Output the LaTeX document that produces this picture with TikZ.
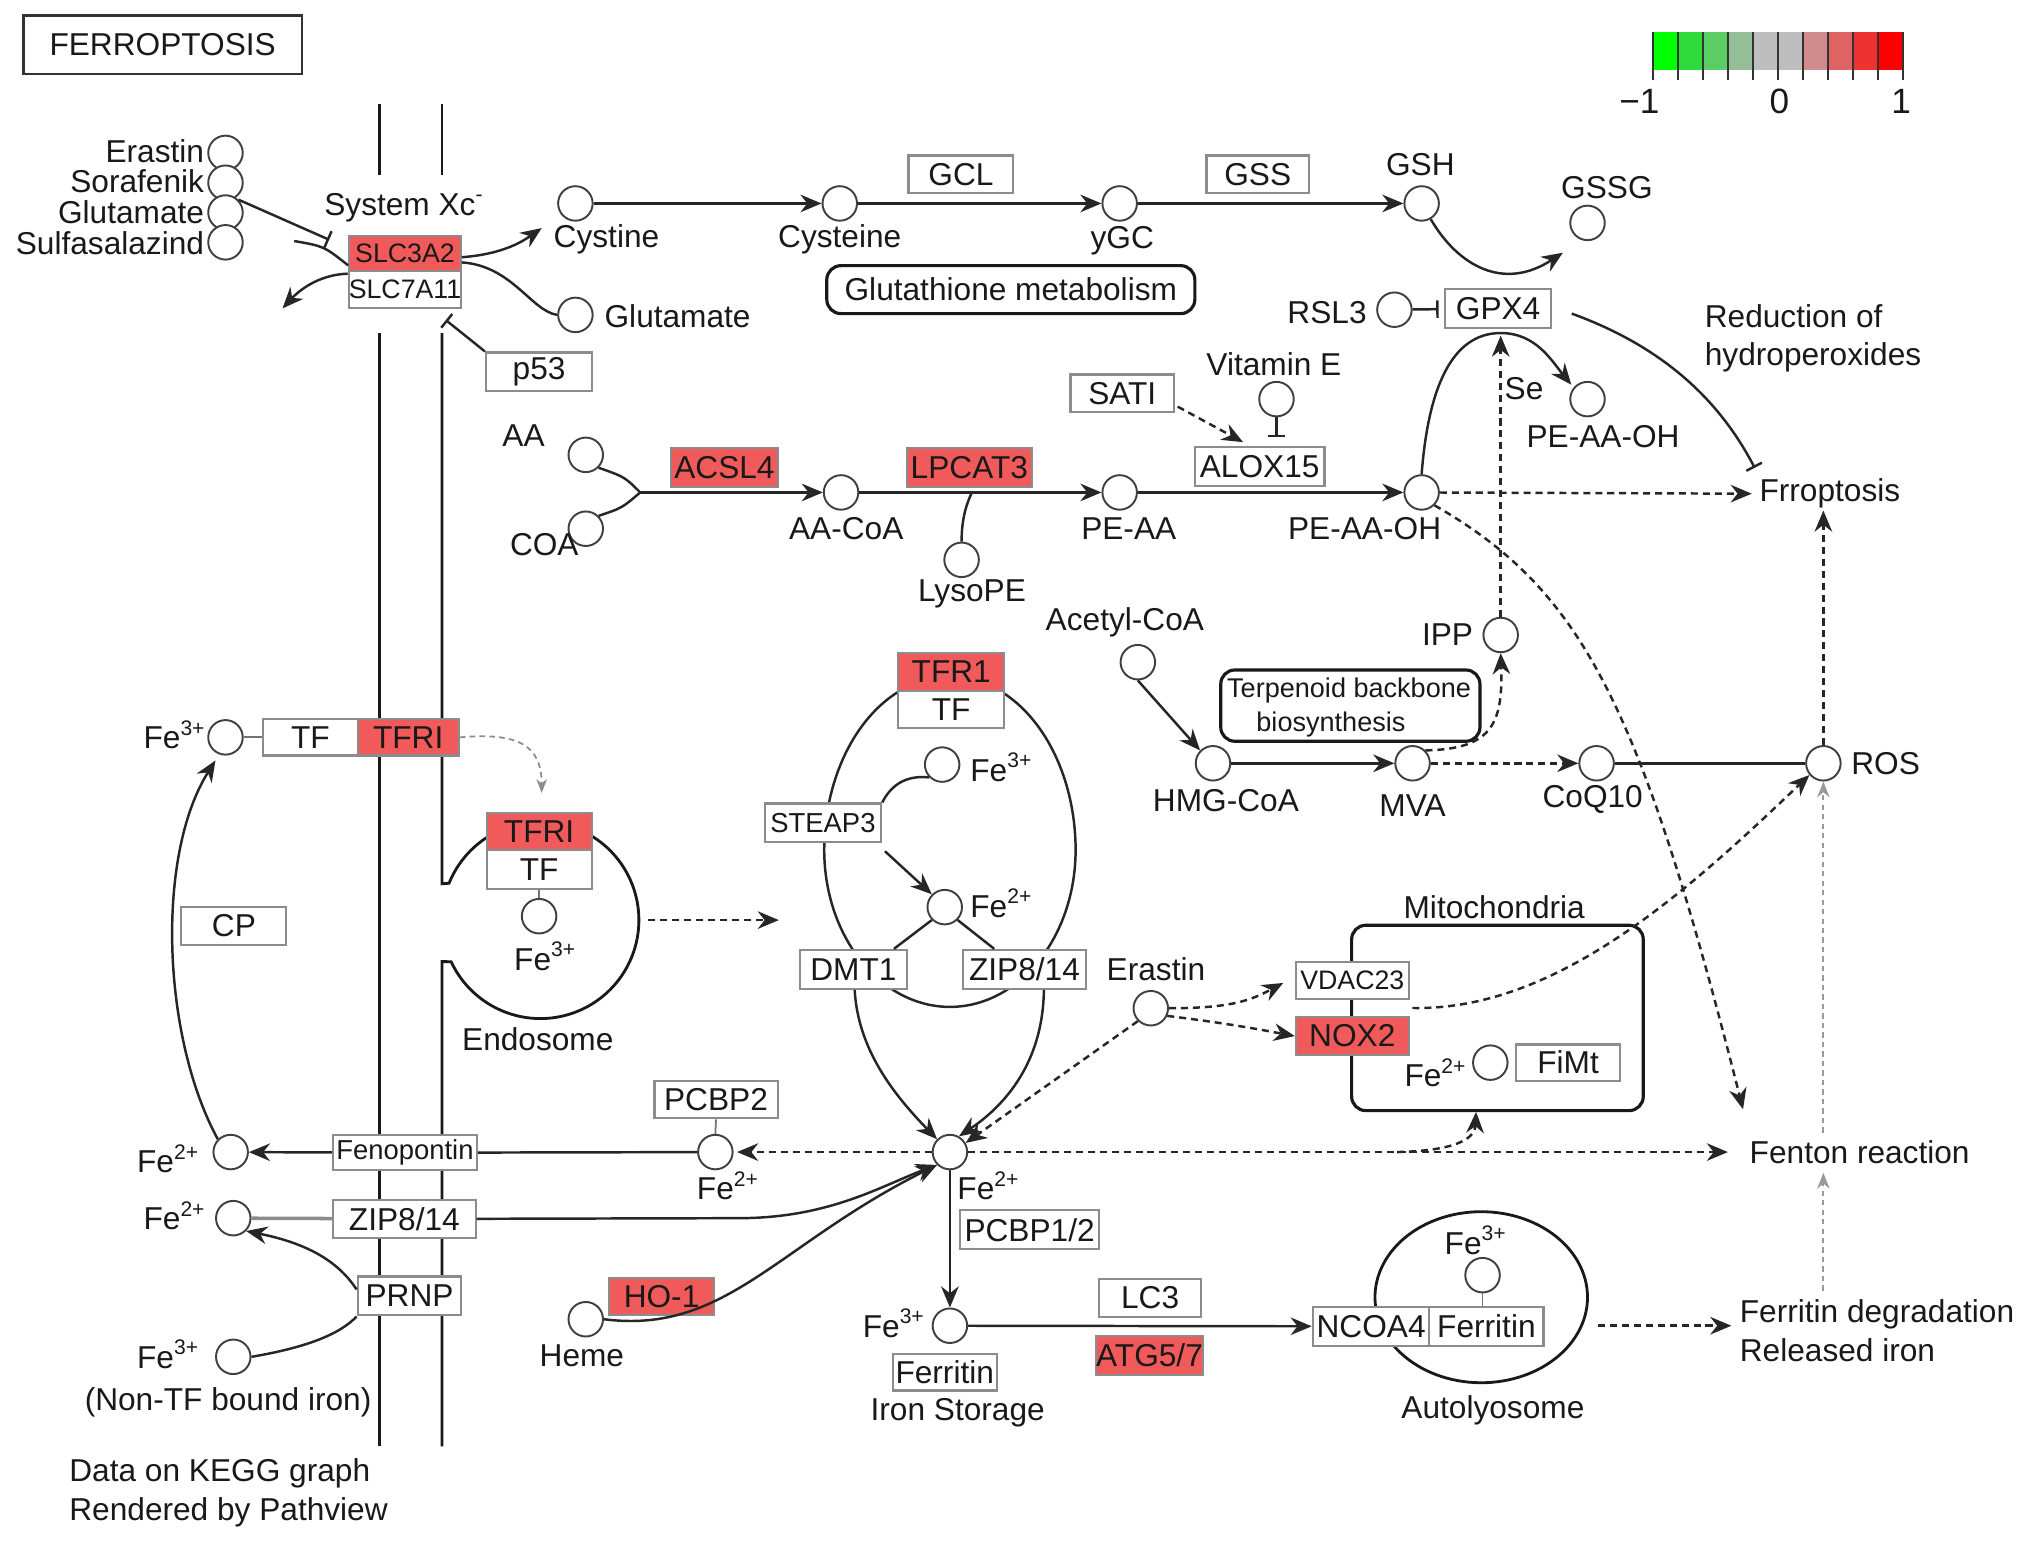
\documentclass[tikz,border=0pt]{standalone}
\usepackage{fontspec}
\setmainfont{Liberation Sans}
\usetikzlibrary{arrows.meta,calc}
\newcommand\dpx[1]{#1*0.012959cm}
\definecolor{hired}{RGB}{240,90,90}
\definecolor{lgA}{RGB}{0,255,0}
\definecolor{lgB}{RGB}{45,220,60}
\definecolor{lgC}{RGB}{90,205,100}
\definecolor{lgD}{RGB}{150,190,150}
\definecolor{lgE}{RGB}{190,190,190}
\definecolor{lgF}{RGB}{190,190,190}
\definecolor{lgG}{RGB}{208,140,140}
\definecolor{lgH}{RGB}{222,100,100}
\definecolor{lgI}{RGB}{238,50,50}
\definecolor{lgJ}{RGB}{255,0,0}
\begin{document}
\begin{tikzpicture}[x=0.012959cm,y=-0.012959cm,
  every node/.style={font=\fontsize{9}{11}\selectfont, inner sep=0pt, text=black!90},
  met/.style={circle, draw=black!75, line width=0.55pt, minimum size=0.345cm, fill=white},
  gbox/.style={draw=black!45, line width=0.6pt, fill=white, minimum height=\dpx{29}},
  rbox/.style={gbox, fill=hired},
  smf/.style={font=\fontsize{7.6}{9}\selectfont},
  ln/.style={draw=black!85, line width=0.7pt},
  tl/.style={draw=black!55, line width=0.5pt},
  arr/.style={ln, -{Stealth[length=6pt,width=5pt]}},
  darr/.style={arr, dash pattern=on 2pt off 1.4pt},
  inh/.style={ln, -{Bar[width=5pt]}},
  gdot/.style={draw=black!40, line width=0.6pt, dash pattern=on 1.5pt off 1.2pt, -{Stealth[length=4.5pt,width=3.5pt]}},
  memb/.style={draw=black!90, line width=0.8pt},
  rnd/.style={draw=black!90, line width=0.9pt, rounded corners=4pt}
]
\useasboundingbox (0,0) rectangle (1568,1190);

% ---------- title and legend
\node[draw=black!80, line width=0.7pt, minimum width=\dpx{215}, minimum height=\dpx{45}] (title) at (125.5,34.5) {FERROPTOSIS};
\foreach \c [count=\i from 0] in {lgA,lgB,lgC,lgD,lgE,lgF,lgG,lgH,lgI,lgJ}
  \fill[\c] ({1275.5+\i*19.3},24.7) rectangle ({1275.5+(\i+1)*19.3},54);
\foreach \i in {0,...,10}
  \draw[black!80, line width=0.8pt] ({1275.5+\i*19.3},24.7) -- ({1275.5+\i*19.3},61.7);
\node[font=\fontsize{10}{12}\selectfont] (lgm) at (1265,78) {−1};
\node[font=\fontsize{10}{12}\selectfont] (lg0) at (1373,78) {0};
\node[font=\fontsize{10}{12}\selectfont] (lg1) at (1467,78) {1};

% ---------- background shapes
\draw[memb] (293,80) -- (293,135);
\draw[memb] (341,80) -- (341,135);
\draw[memb] (293,257) -- (293,1116);
\draw[memb] (341,257) -- (341,682) -- plot[domain=158:121, samples=30] ({417+76*cos(\x)},{710-76*sin(\x)});
\draw[memb] plot[domain=59:-155, samples=90] ({417+76*cos(\x)},{710-76*sin(\x)}) -- (341,742) -- (341,1116);
\draw[ln] plot[domain=0:180, samples=80] ({733+97*cos(\x)},{656-134*sin(\x)}) -- plot[domain=180:360, samples=80] ({733+97*cos(\x)},{656-121*sin(\x)}) -- cycle;
\draw[memb] plot[domain=0:360, samples=120] ({1143+82*cos(\x)},{1001-66*sin(\x)}) -- cycle;
\node[rnd, minimum width=\dpx{225}, minimum height=\dpx{143}] (mito) at (1155.5,785.5) {};
\node (mitol) at (1153,700) {Mitochondria};

% ---------- top-left: System Xc-
\node[met] (era) at (174,118) {};
\node[met] (sor) at (174,141) {};
\node[met] (glu) at (174,164) {};
\node[met] (sul) at (174,187) {};
\node[anchor=east] (eral) at (158,117) {Erastin};
\node[anchor=east] (sorl) at (158,140) {Sorafenik};
\node[anchor=east] (glul) at (158,164) {Glutamate};
\node[anchor=east] (sull) at (158,188) {Sulfasalazind};
\node (sxc) at (312,160) {System Xc\textsuperscript{-}};
\node[rbox, smf, minimum width=\dpx{86}, minimum height=\dpx{27}] (slc3) at (312.5,195.5) {SLC3A2};
\node[gbox, smf, minimum width=\dpx{86}, minimum height=\dpx{29}] (slc7) at (312.5,223.5) {SLC7A11};
\node[gbox, minimum width=\dpx{82}, minimum height=\dpx{30}] (p53) at (416,287) {p53};
\coordinate (bxc) at (254,185);
\coordinate (xin) at (227,186);
\coordinate (xout) at (218,238);
\coordinate (cysin) at (418,176);
\coordinate (p53in) at (344,247);

% ---------- glutathione row
\node[met] (cys) at (444,157) {};
\node (cysl) at (468,185) {Cystine};
\node[met] (glut) at (444,243) {};
\node[anchor=west] (glutl) at (466,244) {Glutamate};
\node[met] (cyst) at (648,157) {};
\node (cystl) at (648,185) {Cysteine};
\node[gbox, minimum width=\dpx{81}] (gcl) at (741.5,134.5) {GCL};
\node[met] (ygc) at (864,157) {};
\node (ygcl) at (866,186) {yGC};
\node[gbox, minimum width=\dpx{79}] (gss) at (970.5,134.5) {GSS};
\node[met] (gsh) at (1097,157) {};
\node (gshl) at (1096,127) {GSH};
\node[met] (gssg) at (1225,172) {};
\node (gssgl) at (1240,145) {GSSG};
\coordinate (gssgin) at (1206,195);
\node[rnd, minimum width=\dpx{284}, minimum height=\dpx{37}] (glum) at (780,223.5) {Glutathione metabolism};
\node (rsl3l) at (1024,241) {RSL3};
\node[met] (rsl3) at (1076,239) {};
\node[gbox, minimum width=\dpx{82}, minimum height=\dpx{30}] (gpx4) at (1156,238) {GPX4};
\node[anchor=west, align=left] (redl) at (1315,261) {Reduction of\\hydroperoxides};

% ---------- lipid row
\node (vitel) at (983,281) {Vitamin E};
\node[met] (vite) at (985,308) {};
\node[gbox, minimum width=\dpx{80}] (sati) at (866,303.5) {SATI};
\node[gbox, minimum width=\dpx{100}, minimum height=\dpx{30}] (alox) at (972,360) {ALOX15};
\node (aal) at (404,336) {AA};
\node[met] (aa) at (452,351) {};
\node[met] (coa) at (452,408) {};
\node (coal) at (420,420) {COA};
\coordinate (jn) at (494,380);
\node[rbox, minimum width=\dpx{82}, minimum height=\dpx{30}] (acsl4) at (559,361) {ACSL4};
\node[met] (aacoa) at (649,380) {};
\node (aacoal) at (653,408) {AA-CoA};
\node[rbox, minimum width=\dpx{96}, minimum height=\dpx{30}] (lpcat3) at (748,361) {LPCAT3};
\node[met] (lyso) at (742,432) {};
\node (lysol) at (750,458) {LysoPE};
\coordinate (lysoj) at (750,380);
\node[met] (peaa) at (864,380) {};
\node (peaal) at (871,408) {PE-AA};
\node[met] (peaaoh) at (1097,380) {};
\node (peaaohl) at (1053,408) {PE-AA-OH};
\node (sel) at (1176,300) {Se};
\node[met] (pe2) at (1225,308) {};
\node (pe2l) at (1237,337) {PE-AA-OH};
\node (frr) at (1412,381) {Frroptosis};
\coordinate (frrinh) at (1354,361);
\coordinate (frrb) at (1407,394);

% ---------- terpenoid / ROS
\node (ippl) at (1117,490) {IPP};
\node[met] (ipp) at (1158,490) {};
\coordinate (ipptop) at (1158,259);
\node (acl) at (868,480) {Acetyl-CoA};
\node[met] (acoa) at (878,511) {};
\node[rnd, minimum width=\dpx{200}, minimum height=\dpx{55}] (terp) at (1042,544.5) {};
\node[font=\fontsize{7.7}{9}\selectfont] (terpl1) at (1041,533) {Terpenoid backbone};
\node[font=\fontsize{7.7}{9}\selectfont] (terpl2) at (1027,559) {biosynthesis};
\node[met] (hmg) at (936,589) {};
\node (hmgl) at (946,618) {HMG-CoA};
\node[met] (mva) at (1090,589) {};
\node (mval) at (1090,622) {MVA};
\node[met] (coq) at (1232,589) {};
\node (coql) at (1229,617) {CoQ10};
\node[met] (ros) at (1407,589) {};
\node (rosl) at (1455,589) {ROS};

% ---------- TF / endosome
\node (fe3al) at (135,567) {Fe\textsuperscript{3+}};
\node[met] (fe3a) at (174,569) {};
\node[gbox, minimum width=\dpx{73}, minimum height=\dpx{28}] (tf1) at (239.5,569) {TF};
\node[rbox, minimum width=\dpx{78}, minimum height=\dpx{28}] (tfri1) at (315,569) {TFRI};
\coordinate (endtop) at (418,612);
\node[gbox, minimum width=\dpx{81}] (cp) at (180.5,714.5) {CP};
\node[rbox, minimum width=\dpx{81}, minimum height=\dpx{29}] (tfri2) at (416,642) {TFRI};
\node[gbox, minimum width=\dpx{81}, minimum height=\dpx{30}] (tf2) at (416,671) {TF};
\node[met] (fe3b) at (416,707) {};
\node (fe3bl) at (421,738) {Fe\textsuperscript{3+}};
\node (endol) at (415,802) {Endosome};
\coordinate (endor) at (500,710);
\coordinate (endoa) at (601,710);

% ---------- TFR1 cell
\node[rbox, minimum width=\dpx{82}, minimum height=\dpx{29}] (tfr1) at (734,518.5) {TFR1};
\node[gbox, minimum width=\dpx{82}, minimum height=\dpx{29}] (tf3) at (734,547.5) {TF};
\node[met] (fe3c) at (727,590) {};
\node (fe3cl) at (773,592) {Fe\textsuperscript{3+}};
\node[gbox, minimum width=\dpx{90}, minimum height=\dpx{30}, font=\fontsize{7.8}{9}\selectfont] (steap) at (635,635) {STEAP3};
\node[met] (fe2c) at (729,700) {};
\node (fe2cl) at (773,697) {Fe\textsuperscript{2+}};
\node[gbox, minimum width=\dpx{83}, minimum height=\dpx{30}] (dmt1) at (658.5,748) {DMT1};
\node[gbox, minimum width=\dpx{95}, minimum height=\dpx{30}] (zip1) at (790.5,748) {ZIP8/14};

% ---------- Erastin / mitochondria
\node (eral2) at (892,748) {Erastin};
\node[met] (era2) at (888,778) {};
\node[gbox, smf, minimum width=\dpx{87}, minimum height=\dpx{29}] (vdac) at (1043.5,756.5) {VDAC23};
\node[rbox, minimum width=\dpx{87}, minimum height=\dpx{29}] (nox2) at (1043.5,799.5) {NOX2};
\node (fe2el) at (1108,828) {Fe\textsuperscript{2+}};
\node[met] (fe2e) at (1150,820) {};
\node[gbox, minimum width=\dpx{80}, minimum height=\dpx{28}] (fimt) at (1210,820) {FiMt};
\coordinate (mitoin) at (1139,858);

% ---------- lower iron traffic
\node[met] (fe2d) at (733,889) {};
\node (fe2dl) at (763,915) {Fe\textsuperscript{2+}};
\node (fenton) at (1435,889) {Fenton reaction};
\coordinate (fbr) at (1078,889);
\coordinate (fentop) at (1345,856);
\coordinate (fentb) at (1407,905);
\coordinate (fentt) at (1407,874);
\node[gbox, minimum width=\dpx{95}] (pcbp2) at (552.5,848.5) {PCBP2};
\node[met] (fe2f) at (552,889) {};
\node (fe2fl) at (562,915) {Fe\textsuperscript{2+}};
\node[gbox, minimum width=\dpx{111}, minimum height=\dpx{27}, font=\fontsize{7.8}{9}\selectfont] (fpn) at (312.5,889.5) {Fenopontin};
\node (fe2gl) at (130,894) {Fe\textsuperscript{2+}};
\node[met] (fe2g) at (178,889) {};
\node (fe2hl) at (135,938) {Fe\textsuperscript{2+}};
\node[met] (fe2h) at (180,940) {};
\node[gbox, minimum width=\dpx{110}] (zip2) at (312,940.5) {ZIP8/14};
\node[gbox, minimum width=\dpx{80}, minimum height=\dpx{30}] (prnp) at (316,1000) {PRNP};
\node (fe3dl) at (130,1045) {Fe\textsuperscript{3+}};
\node[met] (fe3d) at (180,1047) {};
\node (ntf) at (176,1082) {(Non-TF bound iron)};
\node[rbox, minimum width=\dpx{81}] (ho1) at (510.5,1000.5) {HO-1};
\node[met] (heme) at (452,1018) {};
\node (hemel) at (449,1046) {Heme};
\node[gbox, minimum width=\dpx{107}, minimum height=\dpx{30}] (pcbp12) at (794.5,949) {PCBP1/2};
\node[met] (fe3e) at (733,1023) {};
\node (fe3el) at (690,1021) {Fe\textsuperscript{3+}};
\node[gbox, minimum width=\dpx{80}, minimum height=\dpx{28}] (ferr1) at (729,1059) {Ferritin};
\node (isl) at (739,1090) {Iron Storage};
\node[gbox, minimum width=\dpx{79}] (lc3) at (887.5,1001.5) {LC3};
\node[rbox, minimum width=\dpx{80}, minimum height=\dpx{30}] (atg) at (887,1046) {ATG5/7};
\node[gbox, minimum width=\dpx{90}, minimum height=\dpx{30}] (ncoa4) at (1058,1023.5) {NCOA4};
\node[gbox, minimum width=\dpx{88}, minimum height=\dpx{30}] (ferr2) at (1147,1023.5) {Ferritin};
\node[met] (fe3f) at (1144,984) {};
\node (fe3fl) at (1139,957) {Fe\textsuperscript{3+}};
\node (autol) at (1152,1088) {Autolyosome};
\coordinate (autor) at (1233,1023);
\coordinate (autoa) at (1336,1023);
\node[anchor=west, align=left] (fdeg) at (1342,1027) {Ferritin degradation\\Released iron};
\coordinate (fdegt) at (1407,996);
\node[anchor=west, align=left] (kegg) at (53,1152) {Data on KEGG graph\\Rendered by Pathview};

% ================= connectors
\draw[inh] (glu.north east) -- (bxc);
\draw[ln] (xin) .. controls (250,190) .. ($(slc3.south west)+(0,-5)$);
\draw[arr] ($(slc3.east)+(0,3)$) .. controls (390,196) and (405,185) .. (cysin);
\draw[ln] ($(slc3.east)+(0,7)$) .. controls (395,205) and (410,240) .. (glut.west);
\draw[arr] ($(slc7.north west)+(0,3)$) .. controls (245,212) and (230,225) .. (xout);
\draw[inh] (p53.north west) -- (p53in);

\draw[arr] (cys) -- (cyst);
\draw[arr] (cyst) -- (ygc);
\draw[arr] (ygc) -- (gsh);
\draw[arr] (gsh.300) .. controls (1125,205) and (1160,225) .. (gssgin);
\draw[inh, shorten >=1.5pt] (rsl3) -- (gpx4);
\draw[inh] ($(gpx4.east)+(15,4)$) .. controls (1290,270) and (1330,315) .. (frrinh);

\draw[inh, shorten >=2.5pt] (vite) -- (vite |- alox.north);
\draw[darr] ($(sati.south east)+(2,-5)$) -- ($(alox.north west)+(38,-3)$);
\draw[ln] (aa.south east) .. controls (482,368) .. (jn);
\draw[ln] (coa.north east) .. controls (480,392) .. (jn);
\draw[arr] (jn) -- (aacoa);
\draw[arr] (aacoa) -- (peaa);
\draw[ln] (lyso.north) .. controls (742,400) and (746,388) .. (lysoj);
\draw[arr] (peaa) -- (peaaoh);
\draw[darr, shorten >=2pt] (peaaoh) -- (frr.west);
\draw[arr, shorten >=1pt] (peaaoh.north) .. controls (1102,300) and (1120,257) .. (1158,257) .. controls (1185,257) and (1197,278) .. (pe2.140);
\draw[darr] (peaaoh.south east) .. controls (1220,455) and (1265,540) .. (fentop);
\draw[darr] (ros.north) -- (frrb);
\draw[darr] (ipp.north) -- (ipptop);

\draw[arr] (acoa.south) -- (hmg.north west);
\draw[arr] (hmg) -- (mva);
\draw[darr] (mva.north east) .. controls (1150,578) and (1160,560) .. (ipp.south);
\draw[darr] (mva) -- (coq);
\draw[ln] (coq) -- (ros);

\draw[tl] (fe3a) -- (tf1.west);
\draw[draw=black!45, line width=0.5pt, dash pattern=on 1.6pt off 1.2pt, -{Stealth[length=4pt,width=3pt]}] (tfri1.east) .. controls (400,565) and (418,575) .. (endtop);
\draw[arr, shorten >=2pt] (fe2g.north west) .. controls (125,800) and (120,660) .. (fe3a.250);
\draw[tl] (tf2.south) -- (fe3b.north);
\draw[darr] (endor) -- (endoa);

\draw[ln] (steap.north east) .. controls (688,605) and (700,598) .. (fe3c.south west);
\draw[arr] ($(steap.south east)+(2,6)$) -- (fe2c.north west);
\draw[ln] (fe2c.south west) -- ($(dmt1.north east)+(-11,0)$);
\draw[ln] (fe2c.south east) -- ($(zip1.north west)+(25,0)$);
\draw[arr] ($(dmt1.south)+(1,0)$) .. controls (662,810) and (690,845) .. (fe2d.north west);
\draw[arr] ($(zip1.south)+(15,0)$) .. controls (805,815) and (780,850) .. (fe2d.60);

\draw[darr] (era2.south west) -- (fe2d.30);
\draw[darr] (era2.east) .. controls (950,778) and (965,772) .. ($(vdac.west)+(-9,2)$);
\draw[darr] (era2.-25) .. controls (950,790) and (975,795) .. (nox2.west);
\draw[darr] ($(vdac.south east)+(2,6)$) .. controls (1200,780) and (1300,690) .. (ros.220);

\draw[darr, shorten >=6pt] (fe2d) -- (fenton.west);
\draw[darr] (fbr) .. controls (1120,888) and (1138,880) .. (mitoin);
\draw[gdot] (fentt) -- (ros.south);
\draw[gdot] (fdegt) -- (fentb);

\draw[tl] (pcbp2.south) -- (fe2f.north);
\draw[darr, shorten >=1pt] (fe2d) -- (fe2f);
\draw[ln] (fe2f) -- (fpn);
\draw[arr] (fpn) -- (fe2g);
\draw[draw=black!45, line width=1pt] (fe2h) -- (zip2);
\draw[arr] (zip2.east) -- (570,940) .. controls (640,940) and (680,915) .. (fe2d.south west);
\draw[arr] ($(prnp.west)+(0,-5)$) .. controls (262,975) and (240,960) .. (fe2h.south east);
\draw[ln] (fe3d.east) .. controls (235,1040) and (262,1030) .. (prnp.south west);
\draw[arr] (heme.east) .. controls (560,1030) and (600,960) .. (fe2d.south west);
\draw[arr] (fe2d) -- (fe3e);
\draw[arr] (fe3e) -- (ncoa4);
\draw[tl] (fe3f.south) -- (fe3f |- ferr2.north);
\draw[darr] (autor) -- (autoa);
\end{tikzpicture}
\end{document}
